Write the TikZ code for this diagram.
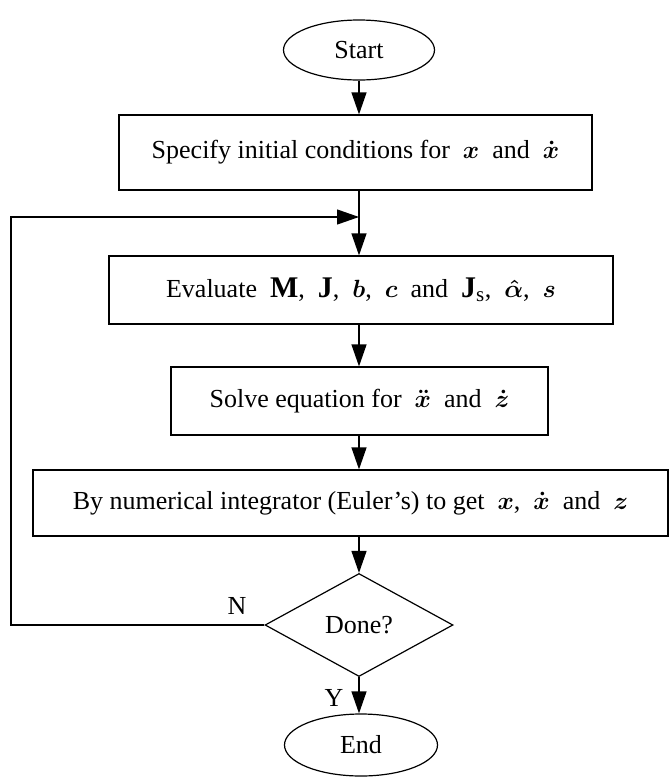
\documentclass[tikz,border=0pt]{standalone}
\usepackage{fontspec}
\setmainfont{Liberation Serif}
\usepackage{amsmath}
\usetikzlibrary{arrows.meta,shapes.geometric}
\newcommand{\gap}{\hspace{0.5em}}
\newcommand{\mm}[1]{{\fontsize{30}{32}\selectfont$#1$}}
\begin{document}
\begin{tikzpicture}[x=1pt,y=-1pt,
  every node/.style={font=\fontsize{26}{30}\selectfont},
  arr/.style={line width=1.2pt,-{Triangle[length=22pt,width=15pt]}},
  box/.style={draw,line width=1.2pt,rectangle,inner sep=0pt},
  term/.style={draw,line width=1.2pt,ellipse,inner sep=0pt,minimum width=151pt,minimum height=60pt},
  decide/.style={draw,line width=1.2pt,diamond,inner sep=0pt,minimum width=188pt,minimum height=103pt},
  lab/.style={inner sep=0pt}]
\useasboundingbox (0,0) rectangle (670,782);
\node[term] (start) at (359,50) {Start};
\node[box,minimum width=473pt,minimum height=75pt] (b1) at (355.5,152.5) {Specify initial conditions for\gap\mm{\boldsymbol{x}}\gap and\gap\mm{\boldsymbol{\dot{x}}}};
\node[box,minimum width=504pt,minimum height=68pt] (b2) at (361,290) {\raisebox{-6pt}{Evaluate\gap\mm{\mathbf{M}},\gap\mm{\mathbf{J}},\gap\mm{\boldsymbol{b}},\gap\mm{\boldsymbol{c}}\gap and\gap\mm{\mathbf{J}_{\mathrm{s}}},\gap\mm{\boldsymbol{\hat{\alpha}}},\gap\mm{\boldsymbol{s}}}};
\node[box,minimum width=377pt,minimum height=68pt] (b3) at (359.5,401) {Solve equation for\gap\mm{\boldsymbol{\ddot{x}}}\gap and\gap\mm{\boldsymbol{\dot{z}}}};
\node[box,minimum width=635pt,minimum height=66pt] (b4) at (350.5,503) {By numerical integrator (Euler's) to get\gap\mm{\boldsymbol{x}},\gap\mm{\boldsymbol{\dot{x}}}\gap and\gap\mm{\boldsymbol{z}}};
\node[decide] (dec) at (359,625) {Done?};
\node[term,minimum width=153pt,minimum height=62pt] (end) at (361,745) {End};
\coordinate (j) at (359,217);
\coordinate (lc) at (11,217);
\node[lab] (nlab) at (237,606) {N};
\node[lab] (ylab) at (334,698) {Y};
\draw[arr] (start.south) -- (start.south |- b1.north);
\draw[arr] (b1.south -| j) -- (b2.north -| j);
\draw[arr] (dec.west) -| (lc) -- (j);
\draw[arr] (b2.south -| j) -- (b3.north -| j);
\draw[arr] (b3.south -| j) -- (b4.north -| j);
\draw[arr] (b4.south -| dec) -- (dec.north);
\draw[arr] (dec.south) -- (dec.south |- end.north);
\end{tikzpicture}
\end{document}
